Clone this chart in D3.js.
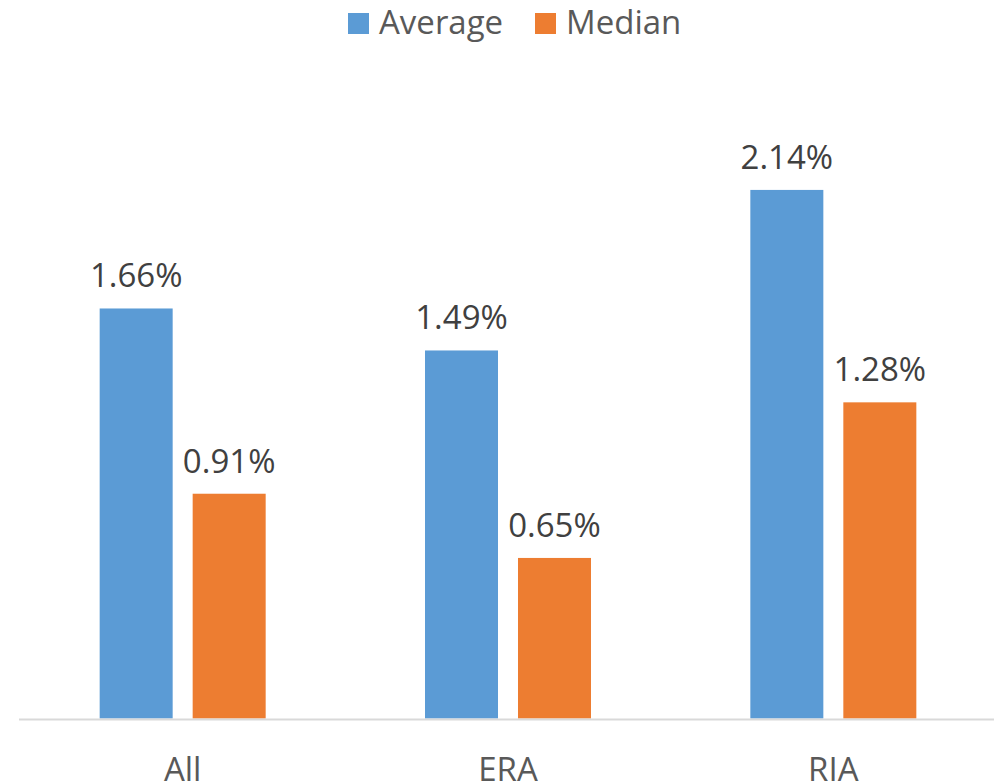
<!DOCTYPE html>
<html>
<head>
<meta charset="utf-8">
<script src="https://cdn.jsdelivr.net/npm/d3@7"></script>
<style>
  html, body { margin: 0; padding: 0; background: #fff; }
  svg { display: block; font-family: "Open Sans", "Noto Sans", sans-serif; }
</style>
</head>
<body>
<svg id="chart" width="994" height="782"></svg>
<script>
/*** DATA ***/
var categories = ['All', 'ERA', 'RIA'];
var seriesNames = ['Average', 'Median'];
var averageValues = [1.66, 1.49, 2.14];
var medianValues = [0.91, 0.65, 1.28];
var seriesColors = ['#5B9BD5', '#ED7D31'];

var seriesData = [averageValues, medianValues];

/*** LAYOUT ***/
var width = 994, height = 782;
var plot = {left: 20, right: 996, top: 101, bottom: 718.5};

var svg = d3.select('#chart');

//scales
var x0 = d3.scaleBand().domain(categories).range([plot.left, plot.right]).padding(0);
var groupWidth = 166;
var x1 = d3.scaleBand().domain(seriesNames).range([-groupWidth / 2, groupWidth / 2]).paddingInner(0.215);
var y = d3.scaleLinear().domain([0, 2.5]).range([plot.bottom, plot.top]);

//bars
var groups = svg.append('g').attr('class', 'bars')
  .selectAll('g')
  .data(categories)
  .enter().append('g')
  .attr('transform', function(d) { return 'translate(' + (x0(d) + x0.bandwidth() / 2) + ',0)'; });

groups.selectAll('rect')
  .data(function(d, i) {
    return seriesNames.map(function(s, j) { return {series: s, value: seriesData[j][i], color: seriesColors[j]}; });
  })
  .enter().append('rect')
  .attr('x', function(d) { return x1(d.series); })
  .attr('width', x1.bandwidth())
  .attr('y', function(d) { return y(d.value); })
  .attr('height', function(d) { return y(0) - y(d.value); })
  .attr('fill', function(d) { return d.color; });

//value labels
groups.selectAll('text')
  .data(function(d, i) {
    return seriesNames.map(function(s, j) { return {series: s, value: seriesData[j][i]}; });
  })
  .enter().append('text')
  .attr('x', function(d) { return x1(d.series) + x1.bandwidth() / 2; })
  .attr('y', function(d) { return y(d.value) - 21; })
  .attr('text-anchor', 'middle')
  .attr('font-size', 33)
  .attr('fill', '#404040')
  .text(function(d) { return d3.format('.2f')(d.value) + '%'; });

//x axis
var xAxis = svg.append('g')
  .attr('transform', 'translate(0,' + (plot.bottom + 1) + ')')
  .call(d3.axisBottom(x0).tickSize(0).tickPadding(40));
xAxis.select('.domain').attr('stroke', '#D9D9D9').attr('stroke-width', 2).attr('d', 'M19,0H994');
xAxis.selectAll('text')
  .attr('font-family', '"Open Sans", "Noto Sans", sans-serif')
  .attr('font-size', 33)
  .attr('fill', '#595959')
  .attr('dy', null)
  .attr('y', 61);

//legend
var legendX = [348, 535];
var legend = svg.append('g').attr('class', 'legend');
seriesNames.forEach(function(s, i) {
  var item = legend.append('g').attr('transform', 'translate(' + legendX[i] + ',0)');
  item.append('rect')
    .attr('x', 0).attr('y', 13)
    .attr('width', 21).attr('height', 21)
    .attr('fill', seriesColors[i]);
  item.append('text')
    .attr('x', 31).attr('y', 34)
    .attr('font-size', 33)
    .attr('fill', '#595959')
    .text(s);
});
</script>
</body>
</html>
